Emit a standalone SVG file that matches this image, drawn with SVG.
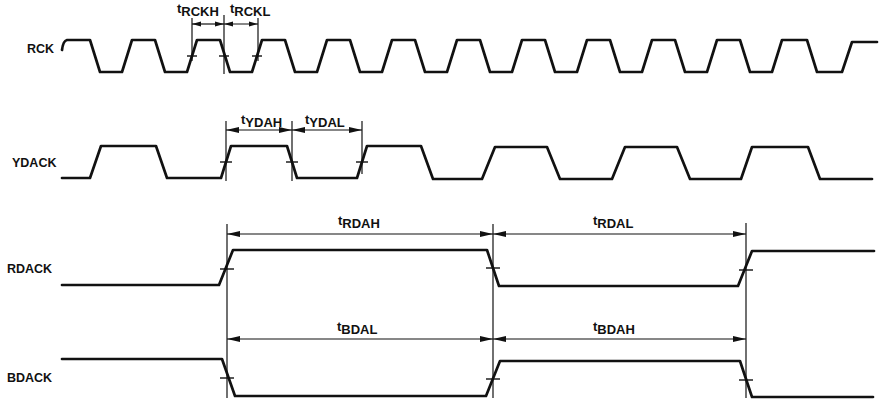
<svg xmlns="http://www.w3.org/2000/svg" width="879" height="400" viewBox="0 0 879 400">
<style>
.sig{fill:none;stroke:#111;stroke-width:2.7;stroke-linejoin:round;stroke-linecap:round}
.ref{fill:none;stroke:#111;stroke-width:1.2}
.tick{fill:none;stroke:#111;stroke-width:1.4}
.dim{fill:none;stroke:#111;stroke-width:1.2}
.lbl{font-family:"Liberation Sans",Arial,sans-serif;font-weight:bold;font-size:12.5px;fill:#111}
.tl{font-family:"Liberation Sans",Arial,sans-serif;font-weight:bold;font-size:13px;fill:#111}
</style>
<defs>
<marker id="arr" markerUnits="userSpaceOnUse" markerWidth="13" markerHeight="7" refX="13" refY="3.5" orient="auto-start-reverse">
<path d="M0,0.5 L13,3.5 L0,6.5 z" fill="#111"/>
</marker>
<marker id="arrs" markerUnits="userSpaceOnUse" markerWidth="9" markerHeight="6" refX="9" refY="3" orient="auto-start-reverse">
<path d="M0,0.5 L9,3 L0,5.5 z" fill="#111"/>
</marker>
</defs>
<rect width="879" height="400" fill="#fff"/>

<g id="rck">
<text class="lbl" x="27" y="53">RCK</text>
<path class="sig" d="M62,50 Q63,41 67,40 L90,40 L100,72 L122,72 L132,40 L155,40 L165,72 L187,72 L197,40 L220,40 L230,72 L252,72 L262,40 L285,40 L295,72 L317,72 L327,40 L350,40 L360,72 L382,72 L392,40 L415,40 L425,72 L447,72 L457,40 L480,40 L490,72 L512,72 L522,40 L545,40 L555,72 L577,72 L587,40 L610,40 L620,72 L642,72 L652,40 L675,40 L685,72 L707,72 L717,40 L740,40 L750,72 L772,72 L782,40 L807,40 L817,72 L842,72 L852,42 L877,42"/>
</g>

<g id="ydack">
<text class="lbl" x="12" y="167">YDACK</text>
<path class="sig" d="M62,178 L90,178 L101,146 L156,146 L167,178 L221,178 L231,146 L287,146 L297,178 L357,178 L367,146 L421,146 L433,179 L482,179 L495,147 L547,147 L560,179 L612,179 L625,147 L677,147 L690,179 L741,179 L752,147 L808,147 L820,179 L872,179"/>
</g>

<g id="rdack">
<text class="lbl" x="7" y="273">RDACK</text>
<path class="sig" d="M62,285 L219,285 L233,250 L487,250 L499,286 L738,286 L752,251 L874,251"/>
</g>

<g id="bdack">
<text class="lbl" x="7" y="382">BDACK</text>
<path class="sig" d="M62,359 L222,359 L235,396 L486,396 L500,361 L740,361 L752,397 L873,397"/>
</g>

<g id="connectors">
<line class="ref" x1="192" y1="18" x2="192" y2="61"/>
<line class="ref" x1="224" y1="15" x2="224" y2="74"/>
<line class="ref" x1="258" y1="18" x2="258" y2="61"/>
<line class="dim" x1="192" y1="24" x2="224" y2="24" marker-start="url(#arrs)" marker-end="url(#arrs)"/>
<line class="dim" x1="224" y1="24" x2="258" y2="24" marker-start="url(#arrs)" marker-end="url(#arrs)"/>
<line class="tick" x1="187" y1="56" x2="197" y2="56"/>
<line class="tick" x1="219" y1="56" x2="229" y2="56"/>
<line class="tick" x1="252" y1="56" x2="262" y2="56"/>

<line class="ref" x1="226" y1="121" x2="226" y2="181"/>
<line class="ref" x1="292" y1="121" x2="292" y2="181"/>
<line class="ref" x1="362" y1="121" x2="362" y2="174"/>
<line class="dim" x1="226" y1="130" x2="292" y2="130" marker-start="url(#arr)" marker-end="url(#arr)"/>
<line class="dim" x1="292" y1="130" x2="362" y2="130" marker-start="url(#arr)" marker-end="url(#arr)"/>
<line class="tick" x1="220" y1="162" x2="232" y2="162"/>
<line class="tick" x1="286" y1="162" x2="298" y2="162"/>
<line class="tick" x1="356" y1="162" x2="368" y2="162"/>

<line class="ref" x1="227" y1="224" x2="227" y2="398"/>
<line class="ref" x1="493" y1="224" x2="493" y2="398"/>
<line class="ref" x1="746" y1="223" x2="746" y2="398"/>
<line class="dim" x1="227" y1="234" x2="493" y2="234" marker-start="url(#arr)" marker-end="url(#arr)"/>
<line class="dim" x1="493" y1="234" x2="746" y2="234" marker-start="url(#arr)" marker-end="url(#arr)"/>
<line class="dim" x1="227" y1="339" x2="493" y2="339" marker-start="url(#arr)" marker-end="url(#arr)"/>
<line class="dim" x1="493" y1="339" x2="746" y2="339" marker-start="url(#arr)" marker-end="url(#arr)"/>
<line class="tick" x1="220" y1="269" x2="234" y2="269"/>
<line class="tick" x1="486" y1="268" x2="500" y2="268"/>
<line class="tick" x1="739" y1="270" x2="753" y2="270"/>
<line class="tick" x1="220" y1="378" x2="234" y2="378"/>
<line class="tick" x1="486" y1="379" x2="500" y2="379"/>
<line class="tick" x1="739" y1="380" x2="753" y2="380"/>
</g>

<g id="labels">
<text class="tl" x="177" y="13">t<tspan dy="3">RCKH</tspan></text>
<text class="tl" x="230" y="13">t<tspan dy="3">RCKL</tspan></text>
<text class="tl" x="241" y="124">t<tspan dy="3">YDAH</tspan></text>
<text class="tl" x="305" y="124">t<tspan dy="3">YDAL</tspan></text>
<text class="tl" x="338" y="225">t<tspan dy="3">RDAH</tspan></text>
<text class="tl" x="593" y="225">t<tspan dy="3">RDAL</tspan></text>
<text class="tl" x="337" y="331">t<tspan dy="3">BDAL</tspan></text>
<text class="tl" x="593" y="331">t<tspan dy="3">BDAH</tspan></text>
</g>
</svg>
